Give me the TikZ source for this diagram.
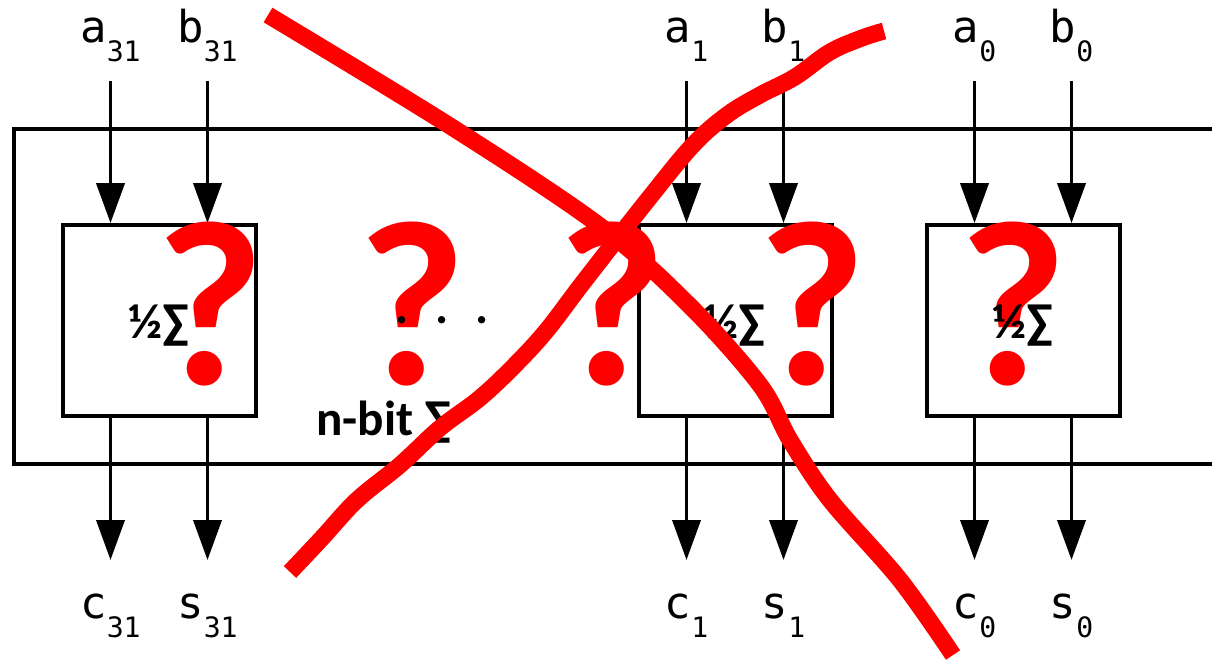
\documentclass[tikz,border=0pt]{standalone}
\usepackage{fontspec}
\setmainfont{Carlito}
\newfontfamily\pinfont{DejaVu Sans Mono}
\usetikzlibrary{arrows.meta}

\begin{document}
\begin{tikzpicture}[x=0.02cm, y=-0.02cm,
        ha/.style={draw, line width=2.2pt, minimum width=3.86cm, minimum height=3.82cm, inner sep=0pt},
        sig/.style={line width=2.2pt, -{Triangle[width=0.56cm, length=0.8cm]}},
        pin/.style={anchor=base, inner sep=0pt, font=\pinfont\fontsize{25}{25}\selectfont},
        hs/.style={anchor=base, inner sep=0pt, font=\bfseries\fontsize{28}{28}\selectfont},
        qm/.style={anchor=base, inner sep=0pt, text=red, font=\bfseries\fontsize{134}{134}\selectfont},
        cross/.style={red, line width=0.34cm}]

      \useasboundingbox (0,0) rectangle (1212,663);
      \clip (0,0) rectangle (1212,663);

      % n-bit frame, open past the right edge
      \draw[line width=2.2pt] (1240,129) -| (14,464) -- (1240,464);

      % half adders with their pins
      \foreach \n/\x in {31/159.5, 1/735.5, 0/1023.5} {
        \node[ha] (h\n) at (\x,320.5) {};
        \coordinate (ia\n) at (\x-49,81);
        \coordinate (ib\n) at (\x+48,81);
        \coordinate (oc\n) at (\x-49,560);
        \coordinate (os\n) at (\x+48,560);
        \node[pin] (la\n) at (\x-49,42) {a\raisebox{-0.4cm}{\pinfont\fontsize{16}{16}\selectfont\n}};
        \node[pin] (lb\n) at (\x+48,42) {b\raisebox{-0.4cm}{\pinfont\fontsize{16}{16}\selectfont\n}};
        \node[pin] (lc\n) at (\x-49,618) {c\raisebox{-0.38cm}{\pinfont\fontsize{16}{16}\selectfont\n}};
        \node[pin] (ls\n) at (\x+48,618) {s\raisebox{-0.38cm}{\pinfont\fontsize{16}{16}\selectfont\n}};
        \draw[sig] (ia\n) -- (h\n.north -| ia\n);
        \draw[sig] (ib\n) -- (h\n.north -| ib\n);
        \draw[sig] (h\n.south -| oc\n) -- (oc\n);
        \draw[sig] (h\n.south -| os\n) -- (os\n);
      }

      % question marks
      \foreach \i/\x in {1/210, 2/412, 3/612, 4/812, 5/1013}
        \node[qm] (q\i) at (\x,384) {?};

      % box texts
      \foreach \n in {31, 1, 0}
        \node[hs] (t\n) at ([yshift=-0.35cm]h\n.center) {½∑};
      \node[hs] (nbit) at (384,435) {n-bit ∑};
      \node[hs] (dots) at (442,323) {.\hspace{0.54cm}.\hspace{0.54cm}.};

      % crossed out
      \draw[cross] plot[smooth, tension=0.55] coordinates {(268,15) (450,126)
        (600,226) (690,306) (760,385) (790,440) (830,500) (900,580) (953,655)};
      \draw[cross] plot[smooth, tension=0.6] coordinates {(290,572) (322,538)
        (357,500) (400,465) (440,428) (480,398) (515,365) (547,330) (585,280)
        (650,197) (693,145) (727,115) (760,95) (795,77) (830,52) (862,38) (884,31)};
    \end{tikzpicture}
\end{document}
